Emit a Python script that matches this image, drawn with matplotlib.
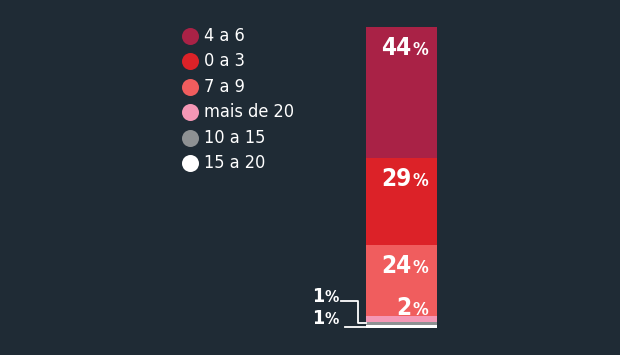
import matplotlib.pyplot as plt
import numpy as np

# stacked from the bottom up
categories = ['15 a 20', '10 a 15', 'mais de 20', '7 a 9', '0 a 3', '4 a 6']
values = [1, 1, 2, 24, 29, 44]
colors = ['#ffffff', '#8e9193', '#f497b5', '#f05d5e', '#dc2228', '#a92246']
legend_order = ['4 a 6', '0 a 3', '7 a 9', 'mais de 20', '10 a 15', '15 a 20']

bg = '#1f2b35'
W, H = 620, 355
fig = plt.figure(figsize=(W / 100, H / 100), dpi=100, facecolor=bg)
plt.rcParams['font.family'] = ['DejaVu Sans']
plt.rcParams['font.stretch'] = 'condensed'

# the bar
ax = fig.add_axes([366 / W, (H - 328) / H, 71 / W, 301 / H])
ax.set_xlim(0, 1)
ax.set_ylim(0, sum(values))
ax.axis('off')
bottoms = np.concatenate([[0], np.cumsum(values)[:-1]])
ax.bar(0.5, values, width=1, bottom=bottoms, color=colors, linewidth=0)

ov = fig.add_axes([0, 0, 1, 1])
ov.set_xlim(0, W)
ov.set_ylim(H, 0)
ov.axis('off')
ov.patch.set_alpha(0)
renderer = fig.canvas.get_renderer()


def pct_label(x, y, num, size, ratio=0.72):
    # number big, % sign smaller, right-aligned at x (pixel coords, baseline y)
    p = ov.text(x, y, '%', ha='right', va='baseline', color='white',
                fontsize=size * ratio, fontweight='bold', fontstretch='condensed')
    w = p.get_window_extent(renderer).width
    ov.text(x - w - 0.5, y, str(num), ha='right', va='baseline', color='white',
            fontsize=size, fontweight='bold', fontstretch='condensed')


def seg_top_px(i):
    return H - ax.transData.transform((0, bottoms[i] + values[i]))[1]


# labels at the top of each large segment; the 2% sits just above its thin band
for i, v in enumerate(values):
    if v > 2:
        pct_label(428, seg_top_px(i) + 28, v, 17.5)
    elif v == 2:
        pct_label(428, seg_top_px(i) - 1, v, 17.5)

# small segments labelled outside with leader lines
ov.plot([341, 358, 358, 366], [301, 301, 323, 323], color='white', lw=1.3)
ov.plot([345, 366], [327, 327], color='white', lw=1.3)
pct_label(339, 302, values[1], 14, 0.82)
pct_label(339, 324, values[0], 14, 0.82)

# legend
for i, name in enumerate(legend_order):
    y = 36 + i * 25.4
    c = colors[categories.index(name)]
    ov.scatter(190, y, s=150, color=c, linewidths=0)
    ov.text(204, y, name, ha='left', va='center', color='white', fontsize=13)

fig.savefig('out.png', dpi=100, facecolor=bg)
